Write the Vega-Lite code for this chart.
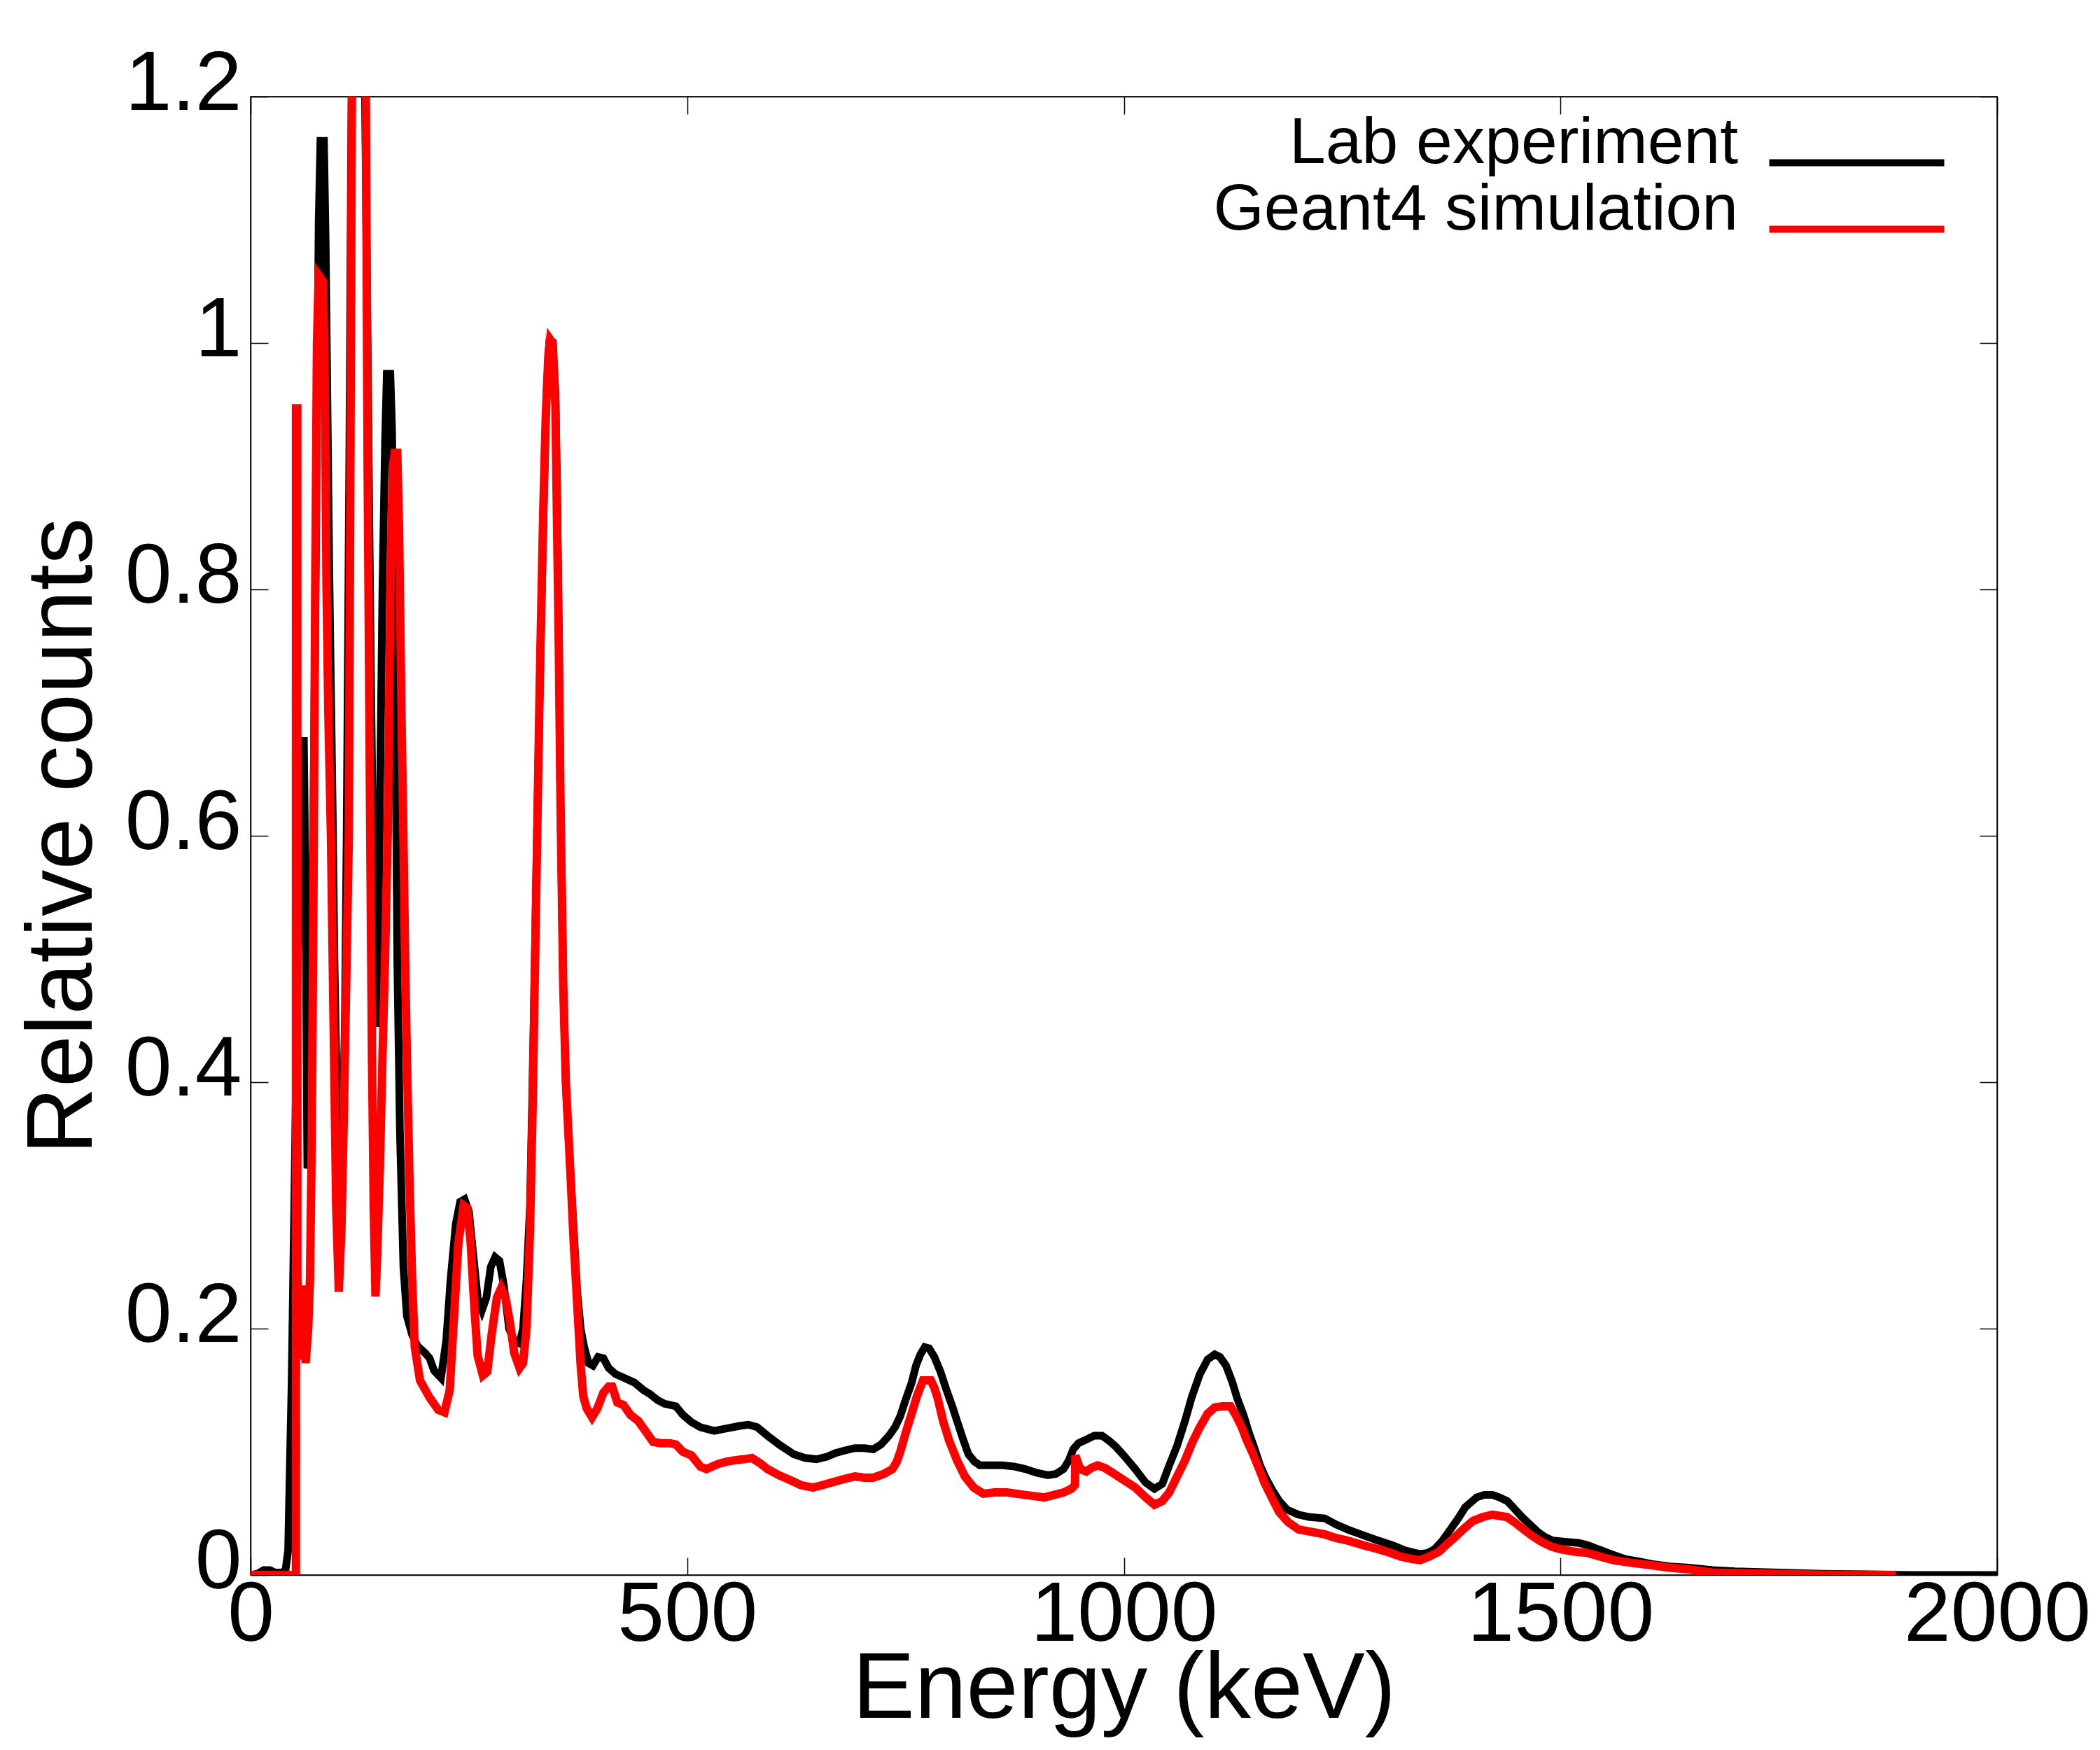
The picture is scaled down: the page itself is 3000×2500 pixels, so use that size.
{
  "$schema": "https://vega.github.io/schema/vega-lite/v6.json",
  "width": 2495,
  "height": 2112,
  "autosize": {"type": "none"},
  "padding": {"left": 358, "top": 138, "right": 147, "bottom": 250},
  "background": "#ffffff",
  "config": {
    "font": "Liberation Sans",
    "view": {"stroke": "#000000", "strokeWidth": 1.5},
    "axis": {
      "grid": false,
      "domainColor": "#000000",
      "domainWidth": 1.5,
      "tickColor": "#000000",
      "tickWidth": 1.5,
      "tickSize": -25,
      "labelColor": "#000000",
      "labelFont": "Liberation Sans",
      "labelFontSize": 120,
      "labelLimit": 0,
      "titleColor": "#000000",
      "titleFont": "Liberation Sans",
      "titleFontSize": 133,
      "titleFontWeight": "normal"
    }
  },
  "data": {
    "values": [
      {"series": "Lab experiment", "energy": 0, "counts": 0},
      {"series": "Lab experiment", "energy": 8, "counts": 0.001},
      {"series": "Lab experiment", "energy": 15, "counts": 0.004},
      {"series": "Lab experiment", "energy": 22, "counts": 0.004},
      {"series": "Lab experiment", "energy": 28, "counts": 0.002},
      {"series": "Lab experiment", "energy": 36, "counts": 0.002},
      {"series": "Lab experiment", "energy": 40, "counts": 0.004},
      {"series": "Lab experiment", "energy": 43, "counts": 0.02},
      {"series": "Lab experiment", "energy": 45, "counts": 0.09},
      {"series": "Lab experiment", "energy": 47, "counts": 0.156},
      {"series": "Lab experiment", "energy": 50, "counts": 0.3},
      {"series": "Lab experiment", "energy": 53, "counts": 0.45},
      {"series": "Lab experiment", "energy": 56, "counts": 0.6},
      {"series": "Lab experiment", "energy": 58, "counts": 0.677},
      {"series": "Lab experiment", "energy": 61, "counts": 0.677},
      {"series": "Lab experiment", "energy": 63, "counts": 0.55},
      {"series": "Lab experiment", "energy": 65, "counts": 0.33},
      {"series": "Lab experiment", "energy": 67, "counts": 0.34},
      {"series": "Lab experiment", "energy": 69, "counts": 0.42},
      {"series": "Lab experiment", "energy": 72, "counts": 0.62},
      {"series": "Lab experiment", "energy": 75, "counts": 0.85},
      {"series": "Lab experiment", "energy": 78, "counts": 1.1},
      {"series": "Lab experiment", "energy": 80, "counts": 1.164},
      {"series": "Lab experiment", "energy": 84, "counts": 1.164},
      {"series": "Lab experiment", "energy": 86, "counts": 1.08},
      {"series": "Lab experiment", "energy": 88, "counts": 0.95},
      {"series": "Lab experiment", "energy": 90, "counts": 0.82},
      {"series": "Lab experiment", "energy": 92, "counts": 0.72},
      {"series": "Lab experiment", "energy": 94, "counts": 0.62},
      {"series": "Lab experiment", "energy": 96, "counts": 0.5},
      {"series": "Lab experiment", "energy": 99, "counts": 0.38},
      {"series": "Lab experiment", "energy": 102, "counts": 0.315},
      {"series": "Lab experiment", "energy": 105, "counts": 0.34},
      {"series": "Lab experiment", "energy": 108, "counts": 0.45},
      {"series": "Lab experiment", "energy": 110, "counts": 0.6},
      {"series": "Lab experiment", "energy": 113, "counts": 0.9},
      {"series": "Lab experiment", "energy": 115, "counts": 1.14},
      {"series": "Lab experiment", "energy": 118, "counts": 1.4},
      {"series": "Lab experiment", "energy": 122, "counts": 1.5},
      {"series": "Lab experiment", "energy": 126, "counts": 1.45},
      {"series": "Lab experiment", "energy": 129, "counts": 1.3},
      {"series": "Lab experiment", "energy": 131, "counts": 1.2},
      {"series": "Lab experiment", "energy": 134, "counts": 1.0},
      {"series": "Lab experiment", "energy": 136, "counts": 0.85},
      {"series": "Lab experiment", "energy": 138, "counts": 0.72},
      {"series": "Lab experiment", "energy": 140, "counts": 0.6},
      {"series": "Lab experiment", "energy": 142, "counts": 0.5},
      {"series": "Lab experiment", "energy": 144, "counts": 0.445},
      {"series": "Lab experiment", "energy": 146, "counts": 0.5},
      {"series": "Lab experiment", "energy": 148, "counts": 0.62},
      {"series": "Lab experiment", "energy": 151, "counts": 0.8},
      {"series": "Lab experiment", "energy": 154, "counts": 0.92},
      {"series": "Lab experiment", "energy": 156, "counts": 0.975},
      {"series": "Lab experiment", "energy": 160, "counts": 0.975},
      {"series": "Lab experiment", "energy": 162, "counts": 0.93},
      {"series": "Lab experiment", "energy": 164, "counts": 0.8},
      {"series": "Lab experiment", "energy": 166, "counts": 0.68},
      {"series": "Lab experiment", "energy": 168, "counts": 0.5},
      {"series": "Lab experiment", "energy": 171, "counts": 0.36},
      {"series": "Lab experiment", "energy": 175, "counts": 0.25},
      {"series": "Lab experiment", "energy": 179, "counts": 0.21},
      {"series": "Lab experiment", "energy": 185, "counts": 0.195},
      {"series": "Lab experiment", "energy": 191, "counts": 0.186},
      {"series": "Lab experiment", "energy": 200, "counts": 0.18},
      {"series": "Lab experiment", "energy": 205, "counts": 0.176},
      {"series": "Lab experiment", "energy": 210, "counts": 0.166},
      {"series": "Lab experiment", "energy": 218, "counts": 0.16},
      {"series": "Lab experiment", "energy": 224, "counts": 0.19},
      {"series": "Lab experiment", "energy": 229, "counts": 0.24},
      {"series": "Lab experiment", "energy": 235, "counts": 0.285},
      {"series": "Lab experiment", "energy": 240, "counts": 0.303},
      {"series": "Lab experiment", "energy": 245, "counts": 0.305},
      {"series": "Lab experiment", "energy": 250, "counts": 0.295},
      {"series": "Lab experiment", "energy": 255, "counts": 0.26},
      {"series": "Lab experiment", "energy": 260, "counts": 0.225},
      {"series": "Lab experiment", "energy": 265, "counts": 0.215},
      {"series": "Lab experiment", "energy": 270, "counts": 0.225},
      {"series": "Lab experiment", "energy": 275, "counts": 0.25},
      {"series": "Lab experiment", "energy": 280, "counts": 0.258},
      {"series": "Lab experiment", "energy": 285, "counts": 0.255},
      {"series": "Lab experiment", "energy": 290, "counts": 0.235},
      {"series": "Lab experiment", "energy": 296, "counts": 0.2},
      {"series": "Lab experiment", "energy": 302, "counts": 0.19},
      {"series": "Lab experiment", "energy": 308, "counts": 0.188},
      {"series": "Lab experiment", "energy": 312, "counts": 0.2},
      {"series": "Lab experiment", "energy": 316, "counts": 0.24},
      {"series": "Lab experiment", "energy": 320, "counts": 0.3},
      {"series": "Lab experiment", "energy": 324, "counts": 0.44},
      {"series": "Lab experiment", "energy": 328, "counts": 0.6},
      {"series": "Lab experiment", "energy": 332, "counts": 0.75},
      {"series": "Lab experiment", "energy": 336, "counts": 0.88},
      {"series": "Lab experiment", "energy": 339, "counts": 0.96},
      {"series": "Lab experiment", "energy": 342, "counts": 1.0},
      {"series": "Lab experiment", "energy": 346, "counts": 1.0},
      {"series": "Lab experiment", "energy": 349, "counts": 0.96},
      {"series": "Lab experiment", "energy": 351, "counts": 0.88},
      {"series": "Lab experiment", "energy": 353, "counts": 0.76},
      {"series": "Lab experiment", "energy": 355, "counts": 0.62},
      {"series": "Lab experiment", "energy": 358, "counts": 0.48},
      {"series": "Lab experiment", "energy": 361, "counts": 0.4},
      {"series": "Lab experiment", "energy": 366, "counts": 0.33},
      {"series": "Lab experiment", "energy": 370, "counts": 0.28},
      {"series": "Lab experiment", "energy": 374, "counts": 0.23},
      {"series": "Lab experiment", "energy": 378, "counts": 0.2},
      {"series": "Lab experiment", "energy": 382, "counts": 0.185},
      {"series": "Lab experiment", "energy": 387, "counts": 0.172},
      {"series": "Lab experiment", "energy": 392, "counts": 0.17},
      {"series": "Lab experiment", "energy": 398, "counts": 0.177},
      {"series": "Lab experiment", "energy": 404, "counts": 0.176},
      {"series": "Lab experiment", "energy": 410, "counts": 0.168},
      {"series": "Lab experiment", "energy": 418, "counts": 0.163},
      {"series": "Lab experiment", "energy": 428, "counts": 0.16},
      {"series": "Lab experiment", "energy": 440, "counts": 0.156},
      {"series": "Lab experiment", "energy": 450, "counts": 0.15},
      {"series": "Lab experiment", "energy": 457, "counts": 0.147},
      {"series": "Lab experiment", "energy": 466, "counts": 0.142},
      {"series": "Lab experiment", "energy": 474, "counts": 0.139},
      {"series": "Lab experiment", "energy": 487, "counts": 0.137},
      {"series": "Lab experiment", "energy": 495, "counts": 0.13},
      {"series": "Lab experiment", "energy": 505, "counts": 0.124},
      {"series": "Lab experiment", "energy": 515, "counts": 0.12},
      {"series": "Lab experiment", "energy": 531, "counts": 0.117},
      {"series": "Lab experiment", "energy": 545, "counts": 0.119},
      {"series": "Lab experiment", "energy": 560, "counts": 0.121},
      {"series": "Lab experiment", "energy": 570, "counts": 0.122},
      {"series": "Lab experiment", "energy": 580, "counts": 0.12},
      {"series": "Lab experiment", "energy": 592, "counts": 0.113},
      {"series": "Lab experiment", "energy": 605, "counts": 0.106},
      {"series": "Lab experiment", "energy": 622, "counts": 0.098},
      {"series": "Lab experiment", "energy": 635, "counts": 0.095},
      {"series": "Lab experiment", "energy": 648, "counts": 0.094},
      {"series": "Lab experiment", "energy": 660, "counts": 0.096},
      {"series": "Lab experiment", "energy": 670, "counts": 0.099},
      {"series": "Lab experiment", "energy": 680, "counts": 0.101},
      {"series": "Lab experiment", "energy": 692, "counts": 0.103},
      {"series": "Lab experiment", "energy": 703, "counts": 0.103},
      {"series": "Lab experiment", "energy": 713, "counts": 0.102},
      {"series": "Lab experiment", "energy": 722, "counts": 0.106},
      {"series": "Lab experiment", "energy": 731, "counts": 0.113},
      {"series": "Lab experiment", "energy": 738, "counts": 0.12},
      {"series": "Lab experiment", "energy": 744, "counts": 0.129},
      {"series": "Lab experiment", "energy": 750, "counts": 0.142},
      {"series": "Lab experiment", "energy": 757, "counts": 0.156},
      {"series": "Lab experiment", "energy": 762, "counts": 0.17},
      {"series": "Lab experiment", "energy": 767, "counts": 0.179},
      {"series": "Lab experiment", "energy": 772, "counts": 0.185},
      {"series": "Lab experiment", "energy": 777, "counts": 0.184},
      {"series": "Lab experiment", "energy": 783, "counts": 0.177},
      {"series": "Lab experiment", "energy": 790, "counts": 0.165},
      {"series": "Lab experiment", "energy": 796, "counts": 0.152},
      {"series": "Lab experiment", "energy": 803, "counts": 0.138},
      {"series": "Lab experiment", "energy": 809, "counts": 0.125},
      {"series": "Lab experiment", "energy": 816, "counts": 0.11},
      {"series": "Lab experiment", "energy": 822, "counts": 0.098},
      {"series": "Lab experiment", "energy": 829, "counts": 0.092},
      {"series": "Lab experiment", "energy": 835, "counts": 0.089},
      {"series": "Lab experiment", "energy": 848, "counts": 0.089},
      {"series": "Lab experiment", "energy": 861, "counts": 0.089},
      {"series": "Lab experiment", "energy": 875, "counts": 0.088},
      {"series": "Lab experiment", "energy": 887, "counts": 0.086},
      {"series": "Lab experiment", "energy": 900, "counts": 0.083},
      {"series": "Lab experiment", "energy": 913, "counts": 0.081},
      {"series": "Lab experiment", "energy": 922, "counts": 0.082},
      {"series": "Lab experiment", "energy": 931, "counts": 0.086},
      {"series": "Lab experiment", "energy": 937, "counts": 0.093},
      {"series": "Lab experiment", "energy": 942, "counts": 0.102},
      {"series": "Lab experiment", "energy": 948, "counts": 0.107},
      {"series": "Lab experiment", "energy": 957, "counts": 0.11},
      {"series": "Lab experiment", "energy": 966, "counts": 0.113},
      {"series": "Lab experiment", "energy": 975, "counts": 0.113},
      {"series": "Lab experiment", "energy": 983, "counts": 0.109},
      {"series": "Lab experiment", "energy": 991, "counts": 0.104},
      {"series": "Lab experiment", "energy": 1000, "counts": 0.097},
      {"series": "Lab experiment", "energy": 1013, "counts": 0.086},
      {"series": "Lab experiment", "energy": 1025, "counts": 0.075},
      {"series": "Lab experiment", "energy": 1035, "counts": 0.07},
      {"series": "Lab experiment", "energy": 1044, "counts": 0.074},
      {"series": "Lab experiment", "energy": 1052, "counts": 0.089},
      {"series": "Lab experiment", "energy": 1061, "counts": 0.105},
      {"series": "Lab experiment", "energy": 1070, "counts": 0.125},
      {"series": "Lab experiment", "energy": 1078, "counts": 0.145},
      {"series": "Lab experiment", "energy": 1087, "counts": 0.163},
      {"series": "Lab experiment", "energy": 1096, "counts": 0.175},
      {"series": "Lab experiment", "energy": 1104, "counts": 0.179},
      {"series": "Lab experiment", "energy": 1110, "counts": 0.177},
      {"series": "Lab experiment", "energy": 1117, "counts": 0.17},
      {"series": "Lab experiment", "energy": 1124, "counts": 0.157},
      {"series": "Lab experiment", "energy": 1130, "counts": 0.143},
      {"series": "Lab experiment", "energy": 1137, "counts": 0.13},
      {"series": "Lab experiment", "energy": 1143, "counts": 0.116},
      {"series": "Lab experiment", "energy": 1150, "counts": 0.102},
      {"series": "Lab experiment", "energy": 1156, "counts": 0.089},
      {"series": "Lab experiment", "energy": 1163, "counts": 0.078},
      {"series": "Lab experiment", "energy": 1170, "counts": 0.069},
      {"series": "Lab experiment", "energy": 1178, "counts": 0.06},
      {"series": "Lab experiment", "energy": 1187, "counts": 0.053},
      {"series": "Lab experiment", "energy": 1200, "counts": 0.049},
      {"series": "Lab experiment", "energy": 1213, "counts": 0.047},
      {"series": "Lab experiment", "energy": 1230, "counts": 0.046},
      {"series": "Lab experiment", "energy": 1243, "counts": 0.041},
      {"series": "Lab experiment", "energy": 1256, "counts": 0.037},
      {"series": "Lab experiment", "energy": 1275, "counts": 0.032},
      {"series": "Lab experiment", "energy": 1291, "counts": 0.028},
      {"series": "Lab experiment", "energy": 1308, "counts": 0.024},
      {"series": "Lab experiment", "energy": 1322, "counts": 0.02},
      {"series": "Lab experiment", "energy": 1339, "counts": 0.017},
      {"series": "Lab experiment", "energy": 1348, "counts": 0.018},
      {"series": "Lab experiment", "energy": 1356, "counts": 0.021},
      {"series": "Lab experiment", "energy": 1365, "counts": 0.028},
      {"series": "Lab experiment", "energy": 1374, "counts": 0.037},
      {"series": "Lab experiment", "energy": 1383, "counts": 0.046},
      {"series": "Lab experiment", "energy": 1391, "counts": 0.055},
      {"series": "Lab experiment", "energy": 1404, "counts": 0.063},
      {"series": "Lab experiment", "energy": 1413, "counts": 0.065},
      {"series": "Lab experiment", "energy": 1422, "counts": 0.065},
      {"series": "Lab experiment", "energy": 1430, "counts": 0.063},
      {"series": "Lab experiment", "energy": 1439, "counts": 0.06},
      {"series": "Lab experiment", "energy": 1447, "counts": 0.054},
      {"series": "Lab experiment", "energy": 1456, "counts": 0.047},
      {"series": "Lab experiment", "energy": 1465, "counts": 0.041},
      {"series": "Lab experiment", "energy": 1474, "counts": 0.035},
      {"series": "Lab experiment", "energy": 1482, "counts": 0.031},
      {"series": "Lab experiment", "energy": 1491, "counts": 0.028},
      {"series": "Lab experiment", "energy": 1505, "counts": 0.027},
      {"series": "Lab experiment", "energy": 1521, "counts": 0.026},
      {"series": "Lab experiment", "energy": 1532, "counts": 0.024},
      {"series": "Lab experiment", "energy": 1543, "counts": 0.021},
      {"series": "Lab experiment", "energy": 1558, "counts": 0.017},
      {"series": "Lab experiment", "energy": 1574, "counts": 0.013},
      {"series": "Lab experiment", "energy": 1590, "counts": 0.011},
      {"series": "Lab experiment", "energy": 1604, "counts": 0.009},
      {"series": "Lab experiment", "energy": 1625, "counts": 0.007},
      {"series": "Lab experiment", "energy": 1647, "counts": 0.006},
      {"series": "Lab experiment", "energy": 1674, "counts": 0.004},
      {"series": "Lab experiment", "energy": 1700, "counts": 0.003},
      {"series": "Lab experiment", "energy": 1750, "counts": 0.002},
      {"series": "Lab experiment", "energy": 1800, "counts": 0.001},
      {"series": "Lab experiment", "energy": 1850, "counts": 0.0005},
      {"series": "Lab experiment", "energy": 1900, "counts": 0},
      {"series": "Lab experiment", "energy": 2000, "counts": 0},
      {"series": "Geant4 simulation", "energy": 0, "counts": 0},
      {"series": "Geant4 simulation", "energy": 51.9, "counts": 0},
      {"series": "Geant4 simulation", "energy": 52, "counts": 0.947},
      {"series": "Geant4 simulation", "energy": 53.5, "counts": 0.947},
      {"series": "Geant4 simulation", "energy": 53.6, "counts": 0.24},
      {"series": "Geant4 simulation", "energy": 56, "counts": 0.21},
      {"series": "Geant4 simulation", "energy": 58, "counts": 0.175},
      {"series": "Geant4 simulation", "energy": 61, "counts": 0.235},
      {"series": "Geant4 simulation", "energy": 63, "counts": 0.172},
      {"series": "Geant4 simulation", "energy": 66, "counts": 0.2},
      {"series": "Geant4 simulation", "energy": 68, "counts": 0.24},
      {"series": "Geant4 simulation", "energy": 70, "counts": 0.35},
      {"series": "Geant4 simulation", "energy": 72, "counts": 0.55},
      {"series": "Geant4 simulation", "energy": 74, "counts": 0.8},
      {"series": "Geant4 simulation", "energy": 76, "counts": 1.0},
      {"series": "Geant4 simulation", "energy": 78, "counts": 1.055},
      {"series": "Geant4 simulation", "energy": 83, "counts": 1.05},
      {"series": "Geant4 simulation", "energy": 85, "counts": 0.97},
      {"series": "Geant4 simulation", "energy": 87, "counts": 0.8},
      {"series": "Geant4 simulation", "energy": 89, "counts": 0.7},
      {"series": "Geant4 simulation", "energy": 92, "counts": 0.6},
      {"series": "Geant4 simulation", "energy": 95, "counts": 0.45},
      {"series": "Geant4 simulation", "energy": 98, "counts": 0.3},
      {"series": "Geant4 simulation", "energy": 101, "counts": 0.23},
      {"series": "Geant4 simulation", "energy": 104, "counts": 0.28},
      {"series": "Geant4 simulation", "energy": 107, "counts": 0.38},
      {"series": "Geant4 simulation", "energy": 110, "counts": 0.5},
      {"series": "Geant4 simulation", "energy": 112.5, "counts": 0.6},
      {"series": "Geant4 simulation", "energy": 114, "counts": 0.85},
      {"series": "Geant4 simulation", "energy": 116, "counts": 1.2},
      {"series": "Geant4 simulation", "energy": 119, "counts": 1.6},
      {"series": "Geant4 simulation", "energy": 123, "counts": 1.8},
      {"series": "Geant4 simulation", "energy": 127, "counts": 1.6},
      {"series": "Geant4 simulation", "energy": 130, "counts": 1.35},
      {"series": "Geant4 simulation", "energy": 132, "counts": 1.2},
      {"series": "Geant4 simulation", "energy": 134, "counts": 0.9},
      {"series": "Geant4 simulation", "energy": 137, "counts": 0.6},
      {"series": "Geant4 simulation", "energy": 139, "counts": 0.42},
      {"series": "Geant4 simulation", "energy": 141, "counts": 0.3},
      {"series": "Geant4 simulation", "energy": 143, "counts": 0.226},
      {"series": "Geant4 simulation", "energy": 145, "counts": 0.26},
      {"series": "Geant4 simulation", "energy": 148, "counts": 0.33},
      {"series": "Geant4 simulation", "energy": 151, "counts": 0.42},
      {"series": "Geant4 simulation", "energy": 154, "counts": 0.5},
      {"series": "Geant4 simulation", "energy": 157, "counts": 0.6},
      {"series": "Geant4 simulation", "energy": 159, "counts": 0.73},
      {"series": "Geant4 simulation", "energy": 161, "counts": 0.84},
      {"series": "Geant4 simulation", "energy": 163, "counts": 0.9},
      {"series": "Geant4 simulation", "energy": 165, "counts": 0.911},
      {"series": "Geant4 simulation", "energy": 168, "counts": 0.911},
      {"series": "Geant4 simulation", "energy": 170, "counts": 0.85},
      {"series": "Geant4 simulation", "energy": 171.5, "counts": 0.77},
      {"series": "Geant4 simulation", "energy": 173, "counts": 0.69},
      {"series": "Geant4 simulation", "energy": 175, "counts": 0.6},
      {"series": "Geant4 simulation", "energy": 177, "counts": 0.5},
      {"series": "Geant4 simulation", "energy": 179, "counts": 0.42},
      {"series": "Geant4 simulation", "energy": 182, "counts": 0.32},
      {"series": "Geant4 simulation", "energy": 185, "counts": 0.24},
      {"series": "Geant4 simulation", "energy": 188, "counts": 0.185},
      {"series": "Geant4 simulation", "energy": 194, "counts": 0.158},
      {"series": "Geant4 simulation", "energy": 205, "counts": 0.144},
      {"series": "Geant4 simulation", "energy": 215, "counts": 0.134},
      {"series": "Geant4 simulation", "energy": 222, "counts": 0.132},
      {"series": "Geant4 simulation", "energy": 228, "counts": 0.15},
      {"series": "Geant4 simulation", "energy": 233, "counts": 0.21},
      {"series": "Geant4 simulation", "energy": 238, "counts": 0.27},
      {"series": "Geant4 simulation", "energy": 244, "counts": 0.3},
      {"series": "Geant4 simulation", "energy": 248, "counts": 0.298},
      {"series": "Geant4 simulation", "energy": 252, "counts": 0.27},
      {"series": "Geant4 simulation", "energy": 256, "counts": 0.22},
      {"series": "Geant4 simulation", "energy": 260, "counts": 0.178},
      {"series": "Geant4 simulation", "energy": 266, "counts": 0.162},
      {"series": "Geant4 simulation", "energy": 271, "counts": 0.165},
      {"series": "Geant4 simulation", "energy": 276, "counts": 0.195},
      {"series": "Geant4 simulation", "energy": 282, "counts": 0.225},
      {"series": "Geant4 simulation", "energy": 287, "counts": 0.233},
      {"series": "Geant4 simulation", "energy": 292, "counts": 0.225},
      {"series": "Geant4 simulation", "energy": 297, "counts": 0.205},
      {"series": "Geant4 simulation", "energy": 302, "counts": 0.18},
      {"series": "Geant4 simulation", "energy": 308, "counts": 0.168},
      {"series": "Geant4 simulation", "energy": 312, "counts": 0.172},
      {"series": "Geant4 simulation", "energy": 316, "counts": 0.2},
      {"series": "Geant4 simulation", "energy": 320, "counts": 0.28},
      {"series": "Geant4 simulation", "energy": 323, "counts": 0.38},
      {"series": "Geant4 simulation", "energy": 327, "counts": 0.55},
      {"series": "Geant4 simulation", "energy": 331, "counts": 0.72},
      {"series": "Geant4 simulation", "energy": 335, "counts": 0.86},
      {"series": "Geant4 simulation", "energy": 338, "counts": 0.94},
      {"series": "Geant4 simulation", "energy": 341, "counts": 0.99},
      {"series": "Geant4 simulation", "energy": 343, "counts": 1.003},
      {"series": "Geant4 simulation", "energy": 346, "counts": 1.0},
      {"series": "Geant4 simulation", "energy": 349, "counts": 0.95},
      {"series": "Geant4 simulation", "energy": 351, "counts": 0.85},
      {"series": "Geant4 simulation", "energy": 353, "counts": 0.75},
      {"series": "Geant4 simulation", "energy": 355, "counts": 0.62},
      {"series": "Geant4 simulation", "energy": 358, "counts": 0.48},
      {"series": "Geant4 simulation", "energy": 361, "counts": 0.4},
      {"series": "Geant4 simulation", "energy": 366, "counts": 0.33},
      {"series": "Geant4 simulation", "energy": 370, "counts": 0.27},
      {"series": "Geant4 simulation", "energy": 374, "counts": 0.22},
      {"series": "Geant4 simulation", "energy": 378, "counts": 0.17},
      {"series": "Geant4 simulation", "energy": 381, "counts": 0.145},
      {"series": "Geant4 simulation", "energy": 385, "counts": 0.135},
      {"series": "Geant4 simulation", "energy": 391, "counts": 0.128},
      {"series": "Geant4 simulation", "energy": 397, "counts": 0.135},
      {"series": "Geant4 simulation", "energy": 404, "counts": 0.148},
      {"series": "Geant4 simulation", "energy": 410, "counts": 0.153},
      {"series": "Geant4 simulation", "energy": 414, "counts": 0.153},
      {"series": "Geant4 simulation", "energy": 420, "counts": 0.14},
      {"series": "Geant4 simulation", "energy": 427, "counts": 0.138},
      {"series": "Geant4 simulation", "energy": 435, "counts": 0.13},
      {"series": "Geant4 simulation", "energy": 444, "counts": 0.125},
      {"series": "Geant4 simulation", "energy": 452, "counts": 0.117},
      {"series": "Geant4 simulation", "energy": 461, "counts": 0.108},
      {"series": "Geant4 simulation", "energy": 470, "counts": 0.107},
      {"series": "Geant4 simulation", "energy": 480, "counts": 0.107},
      {"series": "Geant4 simulation", "energy": 487, "counts": 0.106},
      {"series": "Geant4 simulation", "energy": 495, "counts": 0.1},
      {"series": "Geant4 simulation", "energy": 505, "counts": 0.097},
      {"series": "Geant4 simulation", "energy": 515, "counts": 0.088},
      {"series": "Geant4 simulation", "energy": 522, "counts": 0.086},
      {"series": "Geant4 simulation", "energy": 535, "counts": 0.09},
      {"series": "Geant4 simulation", "energy": 545, "counts": 0.092},
      {"series": "Geant4 simulation", "energy": 553, "counts": 0.093},
      {"series": "Geant4 simulation", "energy": 565, "counts": 0.094},
      {"series": "Geant4 simulation", "energy": 574, "counts": 0.095},
      {"series": "Geant4 simulation", "energy": 583, "counts": 0.091},
      {"series": "Geant4 simulation", "energy": 592, "counts": 0.086},
      {"series": "Geant4 simulation", "energy": 605, "counts": 0.081},
      {"series": "Geant4 simulation", "energy": 618, "counts": 0.077},
      {"series": "Geant4 simulation", "energy": 630, "counts": 0.073},
      {"series": "Geant4 simulation", "energy": 644, "counts": 0.071},
      {"series": "Geant4 simulation", "energy": 655, "counts": 0.073},
      {"series": "Geant4 simulation", "energy": 670, "counts": 0.076},
      {"series": "Geant4 simulation", "energy": 680, "counts": 0.078},
      {"series": "Geant4 simulation", "energy": 692, "counts": 0.08},
      {"series": "Geant4 simulation", "energy": 703, "counts": 0.079},
      {"series": "Geant4 simulation", "energy": 713, "counts": 0.079},
      {"series": "Geant4 simulation", "energy": 725, "counts": 0.082},
      {"series": "Geant4 simulation", "energy": 735, "counts": 0.086},
      {"series": "Geant4 simulation", "energy": 740, "counts": 0.092},
      {"series": "Geant4 simulation", "energy": 744, "counts": 0.1},
      {"series": "Geant4 simulation", "energy": 750, "counts": 0.115},
      {"series": "Geant4 simulation", "energy": 757, "counts": 0.131},
      {"series": "Geant4 simulation", "energy": 763, "counts": 0.145},
      {"series": "Geant4 simulation", "energy": 770, "counts": 0.158},
      {"series": "Geant4 simulation", "energy": 779, "counts": 0.158},
      {"series": "Geant4 simulation", "energy": 783, "counts": 0.152},
      {"series": "Geant4 simulation", "energy": 787, "counts": 0.143},
      {"series": "Geant4 simulation", "energy": 793, "counts": 0.125},
      {"series": "Geant4 simulation", "energy": 800, "counts": 0.109},
      {"series": "Geant4 simulation", "energy": 809, "counts": 0.093},
      {"series": "Geant4 simulation", "energy": 818, "counts": 0.08},
      {"series": "Geant4 simulation", "energy": 828, "counts": 0.071},
      {"series": "Geant4 simulation", "energy": 839, "counts": 0.066},
      {"series": "Geant4 simulation", "energy": 852, "counts": 0.067},
      {"series": "Geant4 simulation", "energy": 866, "counts": 0.067},
      {"series": "Geant4 simulation", "energy": 877, "counts": 0.066},
      {"series": "Geant4 simulation", "energy": 887, "counts": 0.065},
      {"series": "Geant4 simulation", "energy": 898, "counts": 0.064},
      {"series": "Geant4 simulation", "energy": 909, "counts": 0.063},
      {"series": "Geant4 simulation", "energy": 920, "counts": 0.065},
      {"series": "Geant4 simulation", "energy": 931, "counts": 0.067},
      {"series": "Geant4 simulation", "energy": 940, "counts": 0.07},
      {"series": "Geant4 simulation", "energy": 944, "counts": 0.073},
      {"series": "Geant4 simulation", "energy": 944.5, "counts": 0.097},
      {"series": "Geant4 simulation", "energy": 950, "counts": 0.086},
      {"series": "Geant4 simulation", "energy": 957, "counts": 0.084},
      {"series": "Geant4 simulation", "energy": 963, "counts": 0.087},
      {"series": "Geant4 simulation", "energy": 970, "counts": 0.089},
      {"series": "Geant4 simulation", "energy": 978, "counts": 0.087},
      {"series": "Geant4 simulation", "energy": 987, "counts": 0.083},
      {"series": "Geant4 simulation", "energy": 1000, "counts": 0.077},
      {"series": "Geant4 simulation", "energy": 1013, "counts": 0.071},
      {"series": "Geant4 simulation", "energy": 1025, "counts": 0.063},
      {"series": "Geant4 simulation", "energy": 1035, "counts": 0.057},
      {"series": "Geant4 simulation", "energy": 1044, "counts": 0.06},
      {"series": "Geant4 simulation", "energy": 1052, "counts": 0.067},
      {"series": "Geant4 simulation", "energy": 1061, "counts": 0.08},
      {"series": "Geant4 simulation", "energy": 1070, "counts": 0.093},
      {"series": "Geant4 simulation", "energy": 1078, "counts": 0.107},
      {"series": "Geant4 simulation", "energy": 1087, "counts": 0.12},
      {"series": "Geant4 simulation", "energy": 1096, "counts": 0.131},
      {"series": "Geant4 simulation", "energy": 1104, "counts": 0.136},
      {"series": "Geant4 simulation", "energy": 1113, "counts": 0.137},
      {"series": "Geant4 simulation", "energy": 1122, "counts": 0.137},
      {"series": "Geant4 simulation", "energy": 1128, "counts": 0.13},
      {"series": "Geant4 simulation", "energy": 1135, "counts": 0.12},
      {"series": "Geant4 simulation", "energy": 1141, "counts": 0.109},
      {"series": "Geant4 simulation", "energy": 1148, "counts": 0.098},
      {"series": "Geant4 simulation", "energy": 1155, "counts": 0.086},
      {"series": "Geant4 simulation", "energy": 1161, "counts": 0.075},
      {"series": "Geant4 simulation", "energy": 1170, "counts": 0.062},
      {"series": "Geant4 simulation", "energy": 1178, "counts": 0.051},
      {"series": "Geant4 simulation", "energy": 1188, "counts": 0.043},
      {"series": "Geant4 simulation", "energy": 1200, "counts": 0.037},
      {"series": "Geant4 simulation", "energy": 1215, "counts": 0.035},
      {"series": "Geant4 simulation", "energy": 1230, "counts": 0.033},
      {"series": "Geant4 simulation", "energy": 1243, "counts": 0.03},
      {"series": "Geant4 simulation", "energy": 1256, "counts": 0.028},
      {"series": "Geant4 simulation", "energy": 1275, "counts": 0.024},
      {"series": "Geant4 simulation", "energy": 1291, "counts": 0.021},
      {"series": "Geant4 simulation", "energy": 1305, "counts": 0.018},
      {"series": "Geant4 simulation", "energy": 1317, "counts": 0.015},
      {"series": "Geant4 simulation", "energy": 1330, "counts": 0.013},
      {"series": "Geant4 simulation", "energy": 1339, "counts": 0.012},
      {"series": "Geant4 simulation", "energy": 1350, "counts": 0.015},
      {"series": "Geant4 simulation", "energy": 1361, "counts": 0.019},
      {"series": "Geant4 simulation", "energy": 1370, "counts": 0.025},
      {"series": "Geant4 simulation", "energy": 1378, "counts": 0.03},
      {"series": "Geant4 simulation", "energy": 1390, "counts": 0.038},
      {"series": "Geant4 simulation", "energy": 1400, "counts": 0.044},
      {"series": "Geant4 simulation", "energy": 1411, "counts": 0.047},
      {"series": "Geant4 simulation", "energy": 1422, "counts": 0.049},
      {"series": "Geant4 simulation", "energy": 1430, "counts": 0.048},
      {"series": "Geant4 simulation", "energy": 1439, "counts": 0.047},
      {"series": "Geant4 simulation", "energy": 1447, "counts": 0.043},
      {"series": "Geant4 simulation", "energy": 1456, "counts": 0.038},
      {"series": "Geant4 simulation", "energy": 1467, "counts": 0.032},
      {"series": "Geant4 simulation", "energy": 1478, "counts": 0.027},
      {"series": "Geant4 simulation", "energy": 1490, "counts": 0.023},
      {"series": "Geant4 simulation", "energy": 1500, "counts": 0.021},
      {"series": "Geant4 simulation", "energy": 1515, "counts": 0.019},
      {"series": "Geant4 simulation", "energy": 1530, "counts": 0.018},
      {"series": "Geant4 simulation", "energy": 1545, "counts": 0.015},
      {"series": "Geant4 simulation", "energy": 1561, "counts": 0.012},
      {"series": "Geant4 simulation", "energy": 1580, "counts": 0.01},
      {"series": "Geant4 simulation", "energy": 1604, "counts": 0.008},
      {"series": "Geant4 simulation", "energy": 1625, "counts": 0.006},
      {"series": "Geant4 simulation", "energy": 1647, "counts": 0.0045},
      {"series": "Geant4 simulation", "energy": 1674, "counts": 0.002},
      {"series": "Geant4 simulation", "energy": 1700, "counts": 0.0015},
      {"series": "Geant4 simulation", "energy": 1750, "counts": 0.0008},
      {"series": "Geant4 simulation", "energy": 1800, "counts": 0.0003},
      {"series": "Geant4 simulation", "energy": 1884, "counts": 0}
    ]
  },
  "layer": [
    {
      "transform": [{"filter": "datum.series === 'Lab experiment'"}],
      "mark": {"type": "line", "strokeWidth": 11, "clip": true},
      "encoding": {
        "x": {
          "field": "energy",
          "type": "quantitative",
          "scale": {"domain": [0, 2000], "nice": false, "zero": false},
          "axis": {
            "orient": "bottom",
            "values": [0, 500, 1000, 1500, 2000],
            "format": "d",
            "labelPadding": 118,
            "labelBaseline": "alphabetic",
            "labelFlush": false,
            "title": "Energy (keV)",
            "titleBaseline": "alphabetic",
            "titleY": 203
          }
        },
        "y": {
          "field": "counts",
          "type": "quantitative",
          "scale": {"domain": [0, 1.2], "nice": false},
          "axis": {
            "orient": "left",
            "values": [0, 0.2, 0.4, 0.6, 0.8, 1, 1.2],
            "format": "~g",
            "labelPadding": 38,
            "labelBaseline": "alphabetic",
            "labelOffset": 18,
            "labelFlush": false,
            "title": "Relative counts",
            "titleBaseline": "alphabetic",
            "titleX": -228,
            "titleY": 1056
          }
        },
        "color": {
          "field": "series",
          "type": "nominal",
          "scale": {
            "domain": ["Lab experiment", "Geant4 simulation"],
            "range": ["#000000", "#ff0000"]
          },
          "legend": {
            "title": null,
            "orient": "none",
            "legendX": 2123,
            "legendY": 48,
            "padding": 0,
            "rowPadding": 0,
            "symbolType": "M0,0H10",
            "symbolSize": 2500,
            "symbolStrokeWidth": 10,
            "labelFont": "Liberation Sans",
            "labelFontSize": 93,
            "labelColor": "#000000",
            "labelAlign": "right",
            "labelBaseline": "alphabetic",
            "labelOffset": -91,
            "labelLimit": 0
          }
        }
      }
    },
    {
      "transform": [{"filter": "datum.series === 'Geant4 simulation'"}],
      "mark": {"type": "line", "strokeWidth": 12, "clip": true},
      "encoding": {
        "x": {
          "field": "energy",
          "type": "quantitative",
          "scale": {"domain": [0, 2000], "nice": false, "zero": false},
          "axis": {
            "orient": "top",
            "values": [0, 500, 1000, 1500, 2000],
            "labels": false,
            "title": null
          }
        },
        "y": {
          "field": "counts",
          "type": "quantitative",
          "scale": {"domain": [0, 1.2], "nice": false},
          "axis": {
            "orient": "right",
            "values": [0, 0.2, 0.4, 0.6, 0.8, 1, 1.2],
            "labels": false,
            "title": null
          }
        },
        "color": {"field": "series", "type": "nominal"}
      }
    }
  ],
  "resolve": {"axis": {"x": "independent", "y": "independent"}}
}
